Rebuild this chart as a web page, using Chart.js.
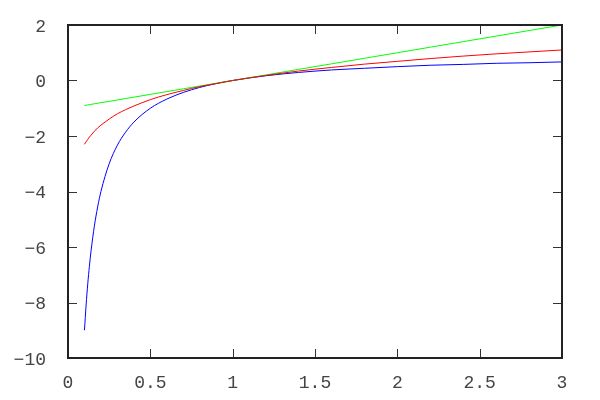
<!DOCTYPE html>
<html>
<head>
<meta charset="utf-8">
<script src="https://cdn.jsdelivr.net/npm/chart.js@4"></script>
<style>
  html, body { margin: 0; padding: 0; background: #fff; }
  #wrap { width: 600px; height: 400px; }
</style>
</head>
<body>
<div id="wrap"><canvas id="curveChart" width="600" height="400"></canvas></div>
<script>
// values
const xVals = [0.1, 0.11, 0.12, 0.13, 0.14, 0.16, 0.18, 0.2, 0.25, 0.3, 0.35, 0.4, 0.5, 0.6, 0.7, 0.8, 0.9, 1.0,
               1.2, 1.4, 1.6, 1.8, 2.0, 2.2, 2.4, 2.6, 2.8, 3.0];
const redVals = [-2.30, -2.21, -2.12, -2.04, -1.97, -1.83, -1.71, -1.61, -1.39, -1.20, -1.05, -0.92, -0.69, -0.51,
                 -0.36, -0.22, -0.11, 0, 0.18, 0.34, 0.47, 0.59, 0.69, 0.79, 0.88, 0.96, 1.03, 1.10];
const greenVals = [-0.90, -0.89, -0.88, -0.87, -0.86, -0.84, -0.82, -0.80, -0.75, -0.70, -0.65, -0.60, -0.50, -0.40,
                   -0.30, -0.20, -0.10, 0, 0.20, 0.40, 0.60, 0.80, 1.00, 1.20, 1.40, 1.60, 1.80, 2.00];
const blueVals = [-9.00, -8.09, -7.33, -6.69, -6.14, -5.25, -4.56, -4.00, -3.00, -2.33, -1.86, -1.50, -1.00, -0.67,
                  -0.43, -0.25, -0.11, 0, 0.17, 0.29, 0.38, 0.44, 0.50, 0.55, 0.58, 0.62, 0.64, 0.67];
const xTicks = [0, 0.5, 1, 1.5, 2, 2.5, 3];
const yTicks = [-10, -8, -6, -4, -2, 0, 2];

const toPoints = vals => vals.map((v, i) => ({ x: xVals[i], y: v }));

// gnuplot style frame with inward ticks on all four sides
const framePlugin = {
    id: 'frame',
    afterDatasetsDraw(chart) {
        const { ctx, chartArea: a, scales } = chart;
        const len = 9;
        ctx.save();
        ctx.strokeStyle = '#333';
        ctx.lineWidth = 1;
        ctx.beginPath();
        xTicks.forEach(t => {
            const px = Math.round(scales.x.getPixelForValue(t)) + 0.5;
            ctx.moveTo(px, a.bottom); ctx.lineTo(px, a.bottom - len);
            ctx.moveTo(px, a.top); ctx.lineTo(px, a.top + len);
        });
        yTicks.forEach(t => {
            const py = Math.round(scales.y.getPixelForValue(t)) + 0.5;
            ctx.moveTo(a.left, py); ctx.lineTo(a.left + len, py);
            ctx.moveTo(a.right, py); ctx.lineTo(a.right - len, py);
        });
        ctx.stroke();
        ctx.strokeStyle = '#222';
        ctx.lineWidth = 2;
        ctx.strokeRect(a.left, a.top, a.right - a.left, a.bottom - a.top);
        ctx.restore();
    }
};

const lineStyle = color => ({
    borderColor: color,
    borderWidth: 1,
    pointRadius: 0,
    fill: false,
    cubicInterpolationMode: 'monotone'
});

const tickFont = { family: 'Liberation Mono', size: 18 };

const ctx = document.getElementById('curveChart').getContext('2d');
const chart = new Chart(ctx, {
    type: 'scatter',
    data: {
        datasets: [
            { label: 'red', data: toPoints(redVals), showLine: true, ...lineStyle('#ff0000') },
            { label: 'green', data: toPoints(greenVals), showLine: true, ...lineStyle('#00ff00') },
            { label: 'blue', data: toPoints(blueVals), showLine: true, ...lineStyle('#0000ff') }
        ]
    },
    options: {
        responsive: false,
        animation: false,
        layout: { padding: { left: 0, top: 25, right: 38, bottom: 0 } },
        plugins: { legend: { display: false }, tooltip: { enabled: false } },
        scales: {
            x: {
                type: 'linear',
                min: 0, max: 3,
                grid: { display: false },
                border: { display: false },
                afterBuildTicks: s => { s.ticks = xTicks.map(v => ({ value: v })); },
                afterFit: s => { s.height = 42; },
                ticks: {
                    color: '#444',
                    padding: 6,
                    maxRotation: 0,
                    font: tickFont,
                    callback: v => String(v)
                }
            },
            y: {
                type: 'linear',
                min: -10, max: 2,
                grid: { display: false },
                border: { display: false },
                afterBuildTicks: s => { s.ticks = yTicks.map(v => ({ value: v })); },
                afterFit: s => { s.width = 68; },
                ticks: {
                    color: '#444',
                    padding: 14,
                    labelOffset: 2,
                    font: tickFont,
                    callback: v => String(v).replace('-', '\u2212')
                }
            }
        }
    },
    plugins: [framePlugin]
});
</script>
</body>
</html>
